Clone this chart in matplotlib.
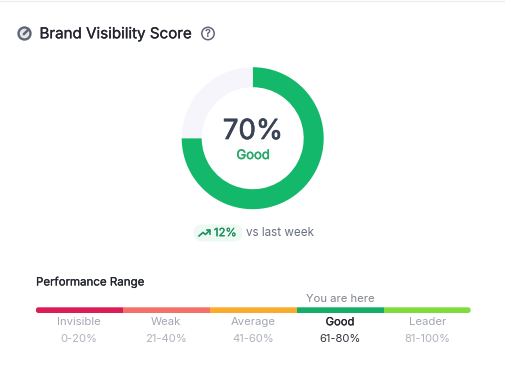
import matplotlib
matplotlib.use("Agg")
import matplotlib.pyplot as plt
import matplotlib.patheffects as pe
from matplotlib.patches import Circle, FancyBboxPatch

plt.rcParams['font.family'] = ['Inter', 'DejaVu Sans']

title = "Brand Visibility Score"
score_label = "70%"
status_label = "Good"
gauge_values = [75, 25]
gauge_colors = ["#14b86a", "#f7f5fc"]
change_label = "12%"
change_note = "vs last week"
range_title = "Performance Range"
range_names = ["Invisible", "Weak", "Average", "Good", "Leader"]
range_spans = ["0-20%", "21-40%", "41-60%", "61-80%", "81-100%"]
range_widths = [20, 20, 20, 20, 20]
range_colors = ["#dc1c55", "#f4716a", "#fbab2c", "#12ad68", "#7fdc3c"]
marker_label = "You are here"
current_index = 3

W, H = 505, 390
fig = plt.figure(figsize=(W / 100, H / 100), dpi=100, facecolor="white")


def heavy(color, amount):
    return [pe.withStroke(linewidth=amount, foreground=color)]


# pixel-coordinate overlay
bg = fig.add_axes([0, 0, 1, 1])
bg.set_xlim(0, W)
bg.set_ylim(H, 0)
bg.axis("off")
bg.plot([0, W], [0.5, 0.5], color="#eeeef0", lw=1)

# header icon
bg.add_patch(Circle((24.5, 33.5), 6.0, fc="#e4e6ea", ec="#5f6675", lw=1.7))
bg.plot([23.8, 27.8], [34.2, 30.2], color="#5f6675", lw=1.8, solid_capstyle="round")
bg.text(39.5, 34.3, title, fontsize=10.9, color="#23252e", va="center", ha="left",
        path_effects=heavy("#23252e", 0.2))
bg.add_patch(Circle((208, 33.5), 6.2, fc="white", ec="#5f6675", lw=1.1))
bg.text(208, 33.7, "?", fontsize=7.5, color="#5f6675", ha="center", va="center",
        path_effects=heavy("#5f6675", 0.2))

# gauge
cx, cy, r = 252.7, 138.2, 71
gax = fig.add_axes([(cx - r) / W, 1 - (cy + r) / H, 2 * r / W, 2 * r / H])
gax.pie(gauge_values, colors=gauge_colors, startangle=90, counterclock=False, radius=1,
        wedgeprops=dict(width=20 / 71, linewidth=0))
gax.set_xlim(-1, 1)
gax.set_ylim(-1, 1)
gax.set_aspect("equal")
bg.text(253, 132, score_label, fontsize=19.9, color="#3a4256", ha="center", va="center",
        path_effects=heavy("#3a4256", 0.5))
bg.text(253, 156, status_label, fontsize=9.4, color="#27a869", ha="center", va="center",
        path_effects=heavy("#27a869", 0.35))

# change pill
bg.add_patch(FancyBboxPatch((193.5, 224.5), 49, 17, boxstyle="round,pad=0,rounding_size=8.5",
                            fc="#edfaf3", ec="none"))
bg.plot([199, 203, 205.5, 209.5], [236, 232.5, 234.5, 230.5], color="#1f8f5f", lw=1.2)
bg.plot([206.5, 209.7, 209.7], [230.3, 230.3, 233.5], color="#1f8f5f", lw=1.2)
bg.text(225.2, 233.2, change_label, fontsize=8.2, color="#1c8a5b", ha="center", va="center",
        path_effects=heavy("#1c8a5b", 0.15))
bg.text(246.5, 233, change_note, fontsize=8.4, color="#6a7080", ha="left", va="center")

# range
bg.text(36, 282.5, range_title, fontsize=8.3, color="#23252e", ha="left", va="center",
        path_effects=heavy("#23252e", 0.15))
x0, x1, y0, y1 = 35.7, 470.7, 307.3, 313
rax = fig.add_axes([x0 / W, 1 - y1 / H, (x1 - x0) / W, (y1 - y0) / H])
rax.set_xlim(0, sum(range_widths))
rax.set_ylim(0, 1)
rax.axis("off")
clip = FancyBboxPatch((x0, y0), x1 - x0, y1 - y0, boxstyle="round,pad=0,rounding_size=2.8",
                      transform=bg.transData, fc="none", ec="none")
bg.add_patch(clip)
bars = rax.barh(0.5, range_widths, left=[sum(range_widths[:i]) for i in range(len(range_widths))],
                height=1, color=range_colors, linewidth=0)
for b in bars:
    b.set_clip_path(clip)

seg = (x1 - x0) / len(range_names)
for i, (n, s) in enumerate(zip(range_names, range_spans)):
    xc = x0 + seg * (i + 0.5)
    active = i == current_index
    bg.text(xc, 322.3, n, fontsize=8.1, color="#23252e" if active else "#a3a7b3", ha="center", va="center",
            path_effects=heavy("#23252e", 0.15) if active else None)
    bg.text(xc, 338.7, s, fontsize=8.1, color="#33363f" if active else "#b0b3bc", ha="center", va="center")
bg.text(x0 + seg * (current_index + 0.5), 299, marker_label, fontsize=8.1, color="#80848f", ha="center", va="center")

fig.savefig("out.png", dpi=100, facecolor="white")
